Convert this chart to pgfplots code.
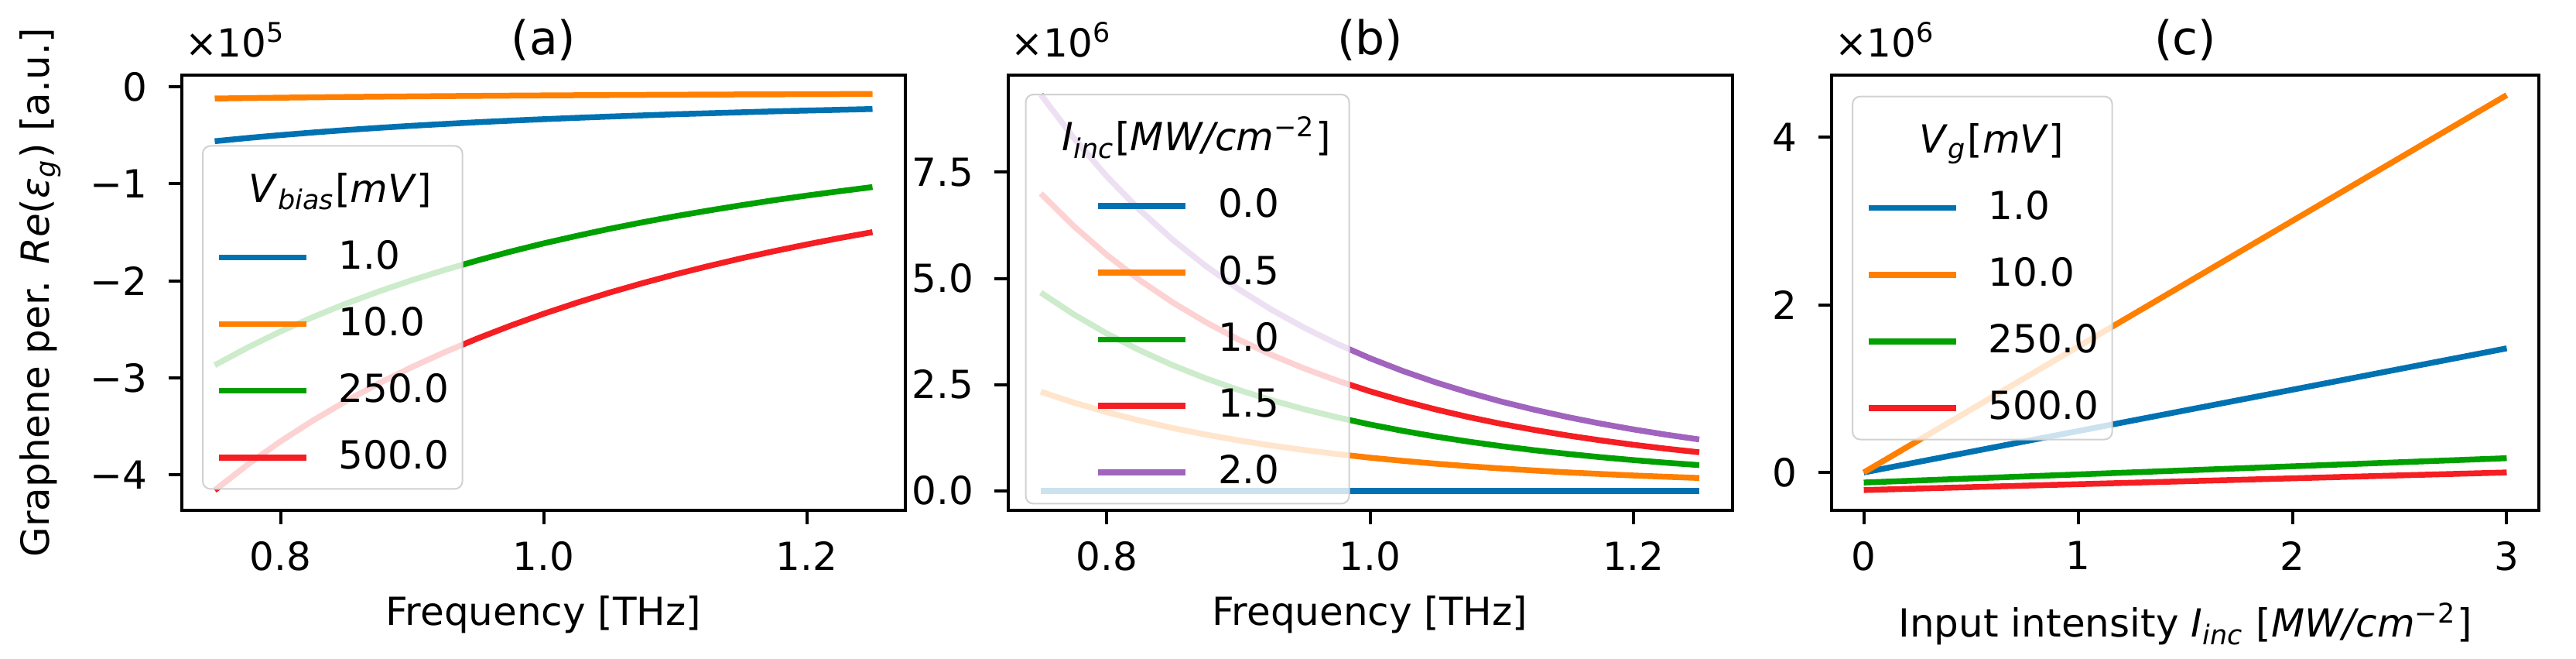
\documentclass[border=0pt]{standalone}
\usepackage{pgfplots}
\pgfplotsset{compat=1.18}
\usepackage{pgfplotstable}
\usepackage{fontspec}
\setmainfont{DejaVu Sans}

\definecolor{cb}{RGB}{0,114,178}
\definecolor{co}{RGB}{255,127,0}
\definecolor{cg}{RGB}{0,160,0}
\definecolor{cr}{RGB}{245,30,35}
\definecolor{cp}{RGB}{160,100,190}

\newcommand{\lt}[1]{\raisebox{0pt}[10.9pt][0pt]{#1}}

% panel (a): values in units of 1e5
\pgfplotstableread{
f     b       o        g       r
0.750 -0.560 -0.1200 -2.870 -4.160
0.775 -0.527 -0.1153 -2.688 -3.896
0.800 -0.497 -0.1111 -2.522 -3.656
0.825 -0.470 -0.1073 -2.372 -3.438
0.850 -0.445 -0.1038 -2.234 -3.239
0.875 -0.422 -0.1005 -2.109 -3.056
0.900 -0.401 -0.0976 -1.993 -2.889
0.925 -0.382 -0.0949 -1.887 -2.735
0.950 -0.364 -0.0924 -1.789 -2.593
0.975 -0.348 -0.0900 -1.698 -2.462
1.000 -0.333 -0.0879 -1.614 -2.340
1.025 -0.319 -0.0859 -1.537 -2.227
1.050 -0.306 -0.0841 -1.464 -2.122
1.075 -0.294 -0.0823 -1.397 -2.025
1.100 -0.282 -0.0807 -1.334 -1.934
1.125 -0.272 -0.0792 -1.276 -1.849
1.150 -0.262 -0.0778 -1.221 -1.769
1.175 -0.252 -0.0765 -1.169 -1.695
1.200 -0.244 -0.0753 -1.121 -1.625
1.225 -0.236 -0.0741 -1.076 -1.559
1.250 -0.228 -0.0730 -1.033 -1.498
}\dataA

% panel (b): values in units of 1e6
\pgfplotstableread{
f     o     g     r     p
0.750 2.333 4.667 7.000 9.330
0.775 2.077 4.155 6.233 8.307
0.800 1.852 3.705 5.557 7.407
0.825 1.654 3.309 4.963 6.615
0.850 1.479 2.959 4.439 5.916
0.875 1.325 2.650 3.975 5.299
0.900 1.188 2.377 3.565 4.752
0.925 1.067 2.135 3.203 4.268
0.950 0.960 1.921 2.881 3.840
0.975 0.865 1.731 2.596 3.460
1.000 0.780 1.561 2.342 3.121
1.025 0.705 1.411 2.116 2.820
1.050 0.638 1.276 1.915 2.552
1.075 0.578 1.157 1.735 2.313
1.100 0.525 1.050 1.574 2.098
1.125 0.477 0.954 1.432 1.908
1.150 0.434 0.869 1.303 1.736
1.175 0.396 0.792 1.188 1.583
1.200 0.361 0.723 1.084 1.445
1.225 0.330 0.661 0.991 1.321
1.250 0.302 0.605 0.907 1.209
}\dataB

% panel (c): values in units of 1e6
\pgfplotstableread{
I b    o    g     r
0 0.00 0.00 -0.12 -0.21
3 1.48 4.50  0.17  0.00
}\dataC

\pgfplotsset{
  myaxis/.style={
    scale only axis, anchor=south west,
    clip mode=individual,
    axis line style={line width=0.8pt},
    tick align=outside, tick pos=left,
    major tick length=3.5pt,
    every tick/.style={line width=0.8pt, black},
    tick label style={font=\fontsize{10}{12}\selectfont, inner sep=0pt},
    xticklabel style={anchor=north},
    yticklabel style={anchor=east},
    xticklabel shift=4.3pt,
    yticklabel shift=5.2pt,
    title style={at={(axis description cs:0.5,1)}, anchor=base, yshift=-0.8pt,
      font=\fontsize{12}{14}\selectfont, inner sep=0pt},
    xlabel style={at={(axis description cs:0.5,0)}, anchor=base, yshift=-29.7pt,
      inner sep=0pt, font=\fontsize{10}{12}\selectfont},
    every axis plot/.append style={line width=1.5pt, line join=round},
    legend image code/.code={\draw[#1] (0pt,0pt) -- (22.6pt,0pt);},
    legend style={draw=black!18, rounded corners=2pt, fill=white,
      fill opacity=0.8, text opacity=1, draw opacity=1,
      inner xsep=3.4pt, inner ysep=3.65pt,
      column sep=7.6pt, row sep=8.3pt,
      cells={anchor=west},
      nodes={inner sep=0pt, font=\fontsize{10}{12}\selectfont}},
  },
}

\newcommand{\offs}[1]{\node[anchor=base west, inner sep=0pt, xshift=0.6pt, yshift=4.7pt,
  font=\fontsize{10}{12}\selectfont] at (rel axis cs:0,1) {×10\textsuperscript{#1}};}

\begin{document}
\begin{tikzpicture}
\useasboundingbox (0,0) rectangle (665.8pt,170.2pt);

% ---------------- (a)
\begin{axis}[myaxis,
  at={(47pt,38.32pt)}, width=187pt, height=112.56pt,
  xmin=0.725, xmax=1.275, ymin=-4.37, ymax=0.125,
  xtick={0.8,1.0,1.2}, xticklabels={0.8,1.0,1.2},
  ytick={-4,-3,-2,-1,0}, yticklabels={−4,−3,−2,−1,0},
  title={(a)}, xlabel={Frequency [THz]},
  ylabel={Graphene per. \textit{Re}(\textit{ε}\textsubscript{\textit{g}}) [a.u.]},
  ylabel style={at={(axis description cs:-0.1834,0.5)}, anchor=base, inner sep=0pt,
    font=\fontsize{10}{12}\selectfont},
  legend style={at={(rel axis cs:0,0)}, anchor=south west, xshift=5.2pt, yshift=5.4pt},
]
\addlegendimage{empty legend}
\addlegendentry{\lt{\makebox[0pt]{\textit{V}\textsubscript{\textit{bias}}[\textit{mV}]}}}
\addplot[cb] table[x=f,y=b] {\dataA}; \addlegendentry{1.0}
\addplot[co] table[x=f,y=o] {\dataA}; \addlegendentry{10.0}
\addplot[cg] table[x=f,y=g] {\dataA}; \addlegendentry{250.0}
\addplot[cr] table[x=f,y=r] {\dataA}; \addlegendentry{500.0}
\offs{5}
\end{axis}

% ---------------- (b)
\begin{axis}[myaxis,
  at={(260.5pt,38.32pt)}, width=187.2pt, height=112.56pt,
  xmin=0.725, xmax=1.275, ymin=-0.4665, ymax=9.7965,
  xtick={0.8,1.0,1.2}, xticklabels={0.8,1.0,1.2},
  ytick={0,2.5,5,7.5}, yticklabels={0.0,2.5,5.0,7.5},
  title={(b)}, xlabel={Frequency [THz]},
  legend style={at={(rel axis cs:0,1)}, anchor=north west, xshift=4.4pt, yshift=-4.9pt,
    inner xsep=18pt},
]
\addlegendimage{empty legend}
\addlegendentry{\lt{\hspace*{-6pt}\makebox[0pt]{\textit{I}\textsubscript{\textit{inc}}[\textit{MW/cm}\textsuperscript{−2}]}\hspace*{6pt}}}
\addplot[cb] coordinates {(0.75,0) (1.25,0)}; \addlegendentry{0.0}
\addplot[co] table[x=f,y=o] {\dataB}; \addlegendentry{0.5}
\addplot[cg] table[x=f,y=g] {\dataB}; \addlegendentry{1.0}
\addplot[cr] table[x=f,y=r] {\dataB}; \addlegendentry{1.5}
\addplot[cp] table[x=f,y=p] {\dataB}; \addlegendentry{2.0}
\offs{6}
\end{axis}

% ---------------- (c)
\begin{axis}[myaxis,
  at={(473.4pt,38.32pt)}, width=182.8pt, height=112.56pt,
  xmin=-0.15, xmax=3.15, ymin=-0.455, ymax=4.742,
  xtick={0,1,2,3}, xticklabels={0,1,2,3},
  ytick={0,2,4}, yticklabels={0,2,4},
  title={(c)},
  xlabel={Input intensity \textit{I}\textsubscript{\textit{inc}} [\textit{MW/cm}\textsuperscript{−2}]},
  xlabel style={yshift=-3pt},
  legend style={at={(rel axis cs:0,1)}, anchor=north west, xshift=5.2pt, yshift=-5.4pt},
]
\addlegendimage{empty legend}
\addlegendentry{\lt{\hspace*{0.8pt}\makebox[0pt]{\textit{V}\textsubscript{\textit{g}}[\textit{mV}]}}}
\addplot[cb] table[x=I,y=b] {\dataC}; \addlegendentry{1.0}
\addplot[co] table[x=I,y=o] {\dataC}; \addlegendentry{10.0}
\addplot[cg] table[x=I,y=g] {\dataC}; \addlegendentry{250.0}
\addplot[cr] table[x=I,y=r] {\dataC}; \addlegendentry{500.0}
\offs{6}
\end{axis}
\end{tikzpicture}
\end{document}
